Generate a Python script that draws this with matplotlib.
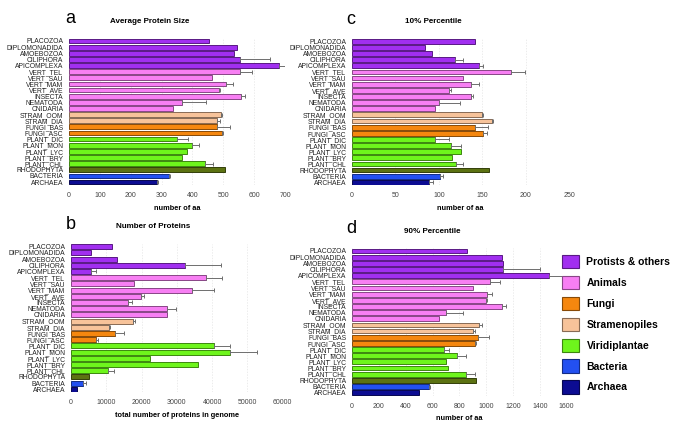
import numpy as np
import matplotlib
matplotlib.use('Agg')
from matplotlib import pyplot as plt
import matplotlib.colors as colors
from matplotlib.patches import Patch

plt.rcParams['font.family'] = ['Liberation Sans', 'DejaVu Sans']

# species (top to bottom)
species = ['PLACOZOA', 'DIPLOMONADIDA', 'AMOEBOZOA', 'CILIPHORA', 'APICOMPLEXA',
           'VERT_TEL', 'VERT_SAU', 'VERT_MAM', 'VERT_AVE', 'INSECTA', 'NEMATODA', 'CNIDARIA',
           'STRAM_OOM', 'STRAM_DIA', 'FUNGI_BAS', 'FUNGI_ASC',
           'PLANT_DIC', 'PLANT_MON', 'PLANT_LYC', 'PLANT_BRY', 'PLANT_CHL',
           'RHODOPHYTA', 'BACTERIA', 'ARCHAEA']
groups = ['prot'] * 5 + ['anim'] * 7 + ['stram'] * 2 + ['fungi'] * 2 + ['plant'] * 5 + \
         ['rhodo', 'bact', 'arch']

# a: average protein size
avg_size = [455, 545, 535, 555, 680, 555, 465, 510, 487, 558, 367, 336,
            492, 481, 481, 496, 349, 398, 384, 365, 440, 506, 324, 284]
avg_size_err = [0, 0, 0, 97, 25, 38, 0, 22, 2, 14, 77, 0,
                5, 8, 41, 2, 36, 24, 0, 0, 26, 0, 2, 4]
# b: number of proteins
n_prot = [11700, 5800, 13000, 32400, 5800, 38200, 18000, 34400, 19800, 16100, 27100, 27100,
          17500, 10900, 12500, 7100, 40600, 45100, 22300, 36100, 10600, 5100, 3500, 1800]
n_prot_err = [0, 0, 0, 10000, 1300, 4700, 0, 6100, 1000, 1200, 2800, 0,
              700, 300, 2400, 700, 4600, 7600, 0, 0, 1700, 0, 700, 0]
# c: 10% percentile
p10 = [141, 84, 92, 119, 146, 183, 128, 137, 112, 137, 100, 95,
       150, 161, 141, 151, 96, 114, 125, 115, 120, 158, 101, 89]
p10_err = [0, 0, 0, 9, 5, 16, 0, 9, 2, 2, 24, 0,
           1, 1, 15, 4, 16, 11, 0, 0, 8, 0, 4, 4]
# d: 90% percentile
p90 = [857, 1115, 1123, 1128, 1468, 1031, 904, 1004, 996, 1115, 703, 648,
       947, 899, 937, 914, 686, 780, 698, 713, 852, 922, 576, 502]
p90_err = [0, 0, 0, 273, 144, 72, 0, 42, 8, 30, 122, 0,
           22, 20, 82, 10, 39, 67, 0, 0, 67, 0, 8, 0]

group_colors = {'prot': '#a12ff0', 'anim': '#f77ff3', 'fungi': '#f5870f', 'stram': '#f7c39a',
                'plant': '#6ef51c', 'rhodo': '#5c7212', 'bact': '#2350f0', 'arch': '#0c0c92'}
legend_groups = ['prot', 'anim', 'fungi', 'stram', 'plant', 'bact', 'arch']
legend_labels = ['Protists & others', 'Animals', 'Fungi', 'Stramenopiles',
                 'Viridiplantae', 'Bacteria', 'Archaea']


def darker(c, f=0.55):
    r, g, b = colors.to_rgb(c)
    return (r * f, g * f, b * f)


def bar_panel(ax, vals, errs, xmax, step, title, letter, xlabel, title_x, letter_x):
    y = np.arange(len(species))
    fc = [group_colors[g] for g in groups]
    ec = [darker(c) for c in fc]
    ax.barh(y, vals, height=0.78, color=fc, edgecolor=ec, linewidth=0.7, zorder=2)
    errs = np.array(errs, dtype=float)
    vals = np.array(vals, dtype=float)
    m = errs > 0
    ax.errorbar(vals[m], y[m], xerr=[np.zeros(m.sum()), errs[m]], fmt='none',
                ecolor='#6e6e6e', elinewidth=0.7, capsize=1.6, capthick=0.7, zorder=3)
    ax.set_ylim(len(species) - 0.5, -0.5)
    ax.set_xlim(0, xmax)
    ax.set_yticks(y)
    ax.set_yticklabels(species, fontsize=4.9, color='#222222')
    ax.set_xticks(np.arange(0, xmax + 1, step))
    ax.tick_params(axis='x', length=0, pad=5, labelsize=5, labelcolor='#444444')
    ax.tick_params(axis='y', length=0, pad=4)
    for s in ax.spines.values():
        s.set_visible(False)
    ax.grid(axis='x', color='#e4e4e4', linestyle=(0, (2, 2)), linewidth=0.5, zorder=0)
    ax.set_axisbelow(True)
    ax.set_xlabel(xlabel, fontsize=5.3, fontweight='bold', labelpad=4)
    pos = ax.get_position()
    fig.text(title_x, pos.y1 + 0.039, title, fontsize=5.8, fontweight='bold',
             ha='center', va='center')
    fig.text(letter_x, pos.y1 + 0.045, letter, fontsize=13, ha='center', va='center')


fig = plt.figure(figsize=(6.85, 4.26), dpi=100)
ax_a = fig.add_axes([0.1007, 0.5655, 0.3153, 0.3455])
ax_b = fig.add_axes([0.1036, 0.0789, 0.3091, 0.3493])
ax_c = fig.add_axes([0.5139, 0.5648, 0.3172, 0.3455])
ax_d = fig.add_axes([0.5139, 0.0709, 0.3134, 0.3472])

bar_panel(ax_a, avg_size, avg_size_err, 700, 100, 'Average Protein Size', 'a',
          'number of aa', 150 / 685, 70 / 685)
bar_panel(ax_b, n_prot, n_prot_err, 60000, 10000, 'Number of Proteins', 'b',
          'total number of proteins in genome', 153 / 685, 71 / 685)
bar_panel(ax_c, p10, p10_err, 250, 50, '10% Percentile', 'c',
          'number of aa', 433 / 685, 351 / 685)
bar_panel(ax_d, p90, p90_err, 1600, 200, '90% Percentile', 'd',
          'number of aa', 432 / 685, 351 / 685)

handles = [Patch(facecolor=group_colors[g], edgecolor=darker(group_colors[g]), linewidth=0.8)
           for g in legend_groups]
fig.legend(handles, legend_labels, loc='upper left', bbox_to_anchor=(562 / 685, 1 - 255 / 426),
           frameon=False, prop={'size': 7.5, 'weight': 'bold'}, handlelength=1.6,
           handleheight=1.6, labelspacing=0.72, handletextpad=0.75, borderaxespad=0,
           borderpad=0)

fig.savefig('out.png', dpi=100)
